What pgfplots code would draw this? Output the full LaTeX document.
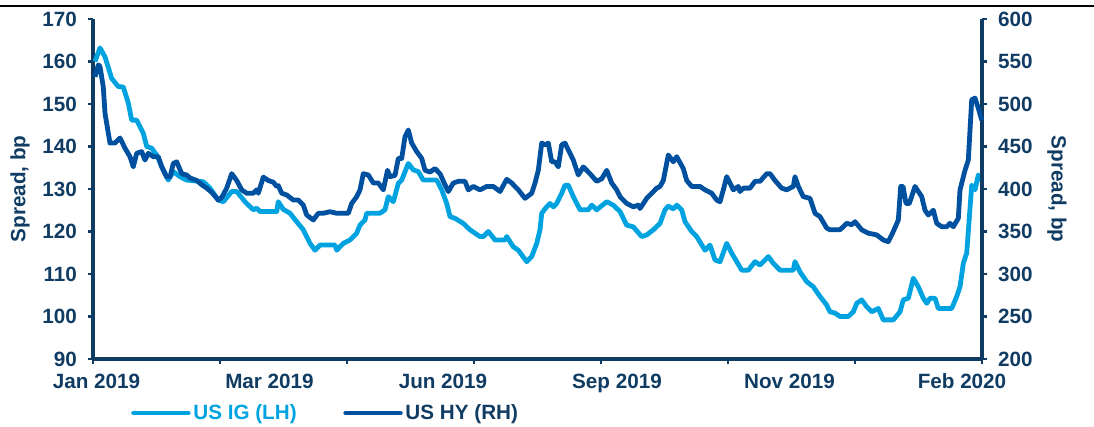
\documentclass[border=0pt]{standalone}
\usepackage{pgfplots}
\pgfplotsset{compat=1.18}
\usepackage{fontspec}
\setmainfont{Liberation Sans}
\definecolor{navy}{RGB}{16,60,100}
\definecolor{ig}{RGB}{0,163,224}
\definecolor{hy}{RGB}{0,80,160}

\pgfplotstableread{
x y
95 160
100 163.2
105 161.1
111.7 156
118.3 154.1
123.3 154
128.3 150.2
131.7 146.2
136.7 146.2
143.3 143.1
146.7 140
151.7 139.6
156.7 138
161.7 135.3
168.3 132.1
173.3 134.1
180 132.9
186.7 132.1
203.3 131.7
210 130.2
218.3 127.4
223.3 127
231.7 129.4
236.7 129.4
245 127
253.3 125.1
256.7 125.5
260 124.7
276.7 124.7
278.3 127
283.3 125.2
290 124.3
296.7 122.3
303.3 120.4
310 117.2
315 115.6
320 116.8
335 116.8
336.7 115.6
343.3 117.2
350 118
356.7 119.6
360 121.5
365 122.7
366.7 124.3
380 124.3
385 125.1
388.3 128.2
393.3 127
398.3 131.3
401.7 132.1
408.3 136
413.3 134.5
418.3 134.1
423.3 132.1
436.7 132.1
441.7 129.8
446.7 126.6
450 123.5
455 123.1
463.3 121.9
470 120.4
480 118.8
483.3 118.8
488.3 120
495 118
505 118
506.7 118.8
513.3 116.4
518.3 115.6
526.7 112.9
531.7 114.1
536.7 117.2
540 120.4
541.7 124.3
546.7 125.8
550 126.6
553.3 125.8
556.7 126.6
561.7 129
565 130.9
568.3 130.9
573.3 128.2
580 125.1
588.3 125.1
591.7 126.2
596.7 125.1
606.7 127
613.3 126.2
620 124.7
626.7 121.5
633.3 121.1
641.7 118.8
646.7 119.2
653.3 120.4
660 121.9
665 125.1
668.3 126
673.3 125.3
676.7 126.2
681.7 125.1
685 122.3
691.7 120
696.7 118.8
705 115.6
710 116.8
715 113.3
720 112.9
726.7 117.2
731.7 114.9
736.7 112.9
741.7 110.9
748.3 110.9
755 112.9
760 112.1
768.3 114.1
773.3 112.5
780 110.9
793.3 110.9
795 112.9
800 110.5
806.7 108.2
813.3 107
820 104.7
826.7 102.7
830 101.1
835 100.8
840 100
848.3 100
853.3 101.1
856.7 103.1
861.7 103.9
866.7 102.3
871.7 101.1
878.3 101.9
883.3 99.2
893.3 99.2
900 101.1
903.3 103.9
908.3 104.3
913.3 109
918.3 107
923.3 104.3
926.7 103.1
930 104.3
935 104.3
938.3 101.9
951.7 101.9
956.7 104.7
960 107
963.3 112.5
966.7 114.9
971.7 130.9
975 129.8
978.3 133.3
981.7 132.1
}\igtable

\pgfplotstableread{
x y
95 532
98.3 546
100 544
103.3 520
105 489
110 454
115 454
120 460
125 448
130 438
133.3 426
136.7 442
141.7 444
145 434
148.3 442
153.3 438
158.3 438
161.7 426
166.7 414
170 414
173.3 430
176.7 432
181.7 418
186.7 416.5
190 413
196.7 410
201.7 405
206.7 401
211.7 396
218.3 387
221.7 390
226.7 401
231.7 418
236.7 410
241.7 399
246.7 395
253.3 395
256.7 399
258.3 395
263.3 414
268.3 410
273.3 408
276.7 403
278.3 404
281.7 395
286.7 393
293.3 387
298.3 387
303.3 381
306.7 369.4
313.3 363.5
318.3 371.4
323.3 371.4
330 373.3
336.7 371.4
348.3 371.4
351.7 383
356.7 391
360 399
363.3 418
368.3 416.5
373.3 407
378.3 407
383.3 399
387.5 422
390 414.5
395 416
398.3 436
401.7 436
405 461.5
408.3 469.4
411.7 454
416.7 444
421.7 436
425 422
430 420
435 424
440 418
445 405
448.3 397
453.3 407
458.3 409
465 409
468.3 399
473.3 403
480 399
486.7 403
493.3 403
500 397
506.7 411.4
511.7 407
518.3 399
525 389
531.7 395
535 407
538.3 422
541.7 454
545 452
548.3 454
551.7 432
555 432
558.3 426
561.7 452
565 454
570 442
573.3 434
578.3 416.5
583.3 426
590 418
596.7 409
601.7 412
606.7 422
611.7 407
616.7 399
620 391
626.7 383
633.3 379
638.3 381
640 377
646.7 389
656.7 401
660 403
663.3 410
668.3 440
673.3 432
676.7 438
683.3 424
686.7 410
691.7 403
700 403
705 399
711.7 395
716.7 387
720 385
723.3 399
726.7 414.5
730 407
733.3 399
738.3 403
740 397
743.3 401
750 401
755 409
760 409
766.7 418
770 418
775 410
781.7 401
786.7 399
793.3 403
795 414.5
798.3 403
803.3 391
810 389
815 371.4
820 367.4
826.7 354
830 352
840 352
846.7 359.6
851.7 358
855 361.5
861.7 352
868.3 348
876.7 346
883.3 340
888.3 338
893.3 350
898.3 363.5
900.7 403
903 403
906 383
909.3 383
915 403
921.7 391
925 375
928.3 369.4
933.3 375
936.7 359.6
941.7 355.6
946.7 355.6
950 359.6
953.3 355.6
958.3 365.5
960 399
965 422
968.3 434
971.7 505
975 507
978.3 495
981.7 481
}\hytable

\newcommand{\lblfont}{\bfseries\fontsize{15.5}{18}\selectfont}

\pgfplotsset{
  common/.style={
    scale only axis,
    at={(69.75pt,51pt)}, anchor=south west,
    width=666.75pt, height=255pt,
    xmin=93, xmax=982,
    clip=false,
    axis line style={navy, line width=2.6pt},
    tick style={navy, line width=2pt},
    major tick length=4pt,
    tick align=outside,
    /pgf/number format/assume math mode=true,
    tick label style={font=\lblfont, text=navy},
  },
}

\begin{document}
\begin{tikzpicture}
\useasboundingbox (0,0) rectangle (820.5pt,320.25pt);
\draw[black, line width=1.5pt] (0,315.975pt) -- (820.5pt,315.975pt);

\begin{axis}[common,
  ymin=90, ymax=170,
  axis x line*=bottom, axis y line*=left,
  ytick={90,100,...,170},
  yticklabel style={xshift=-4.5pt},
  xtick={93,220,347,474,601,728,855,982},
  xticklabels={},
  extra x ticks={96.5,269.5,443,617,789.5,962},
  extra x tick labels={Jan 2019,Mar 2019,Jun 2019,Sep 2019,Nov 2019,Feb 2020},
  extra x tick style={major tick length=0pt, tick style={draw=none}, xticklabel style={yshift=-7.5pt}},
  every axis y label/.style={at={(axis description cs:-0.0821,0.5)}, rotate=90, anchor=center, font=\lblfont, text=navy},
  ylabel={Spread, bp},
]
\addplot[ig, line width=3.6pt, line join=round] table[x=x,y=y] {\igtable};
\end{axis}

\begin{axis}[common,
  ymin=200, ymax=600,
  axis x line=none, axis y line*=right,
  ytick={200,250,...,600},
  yticklabel style={xshift=4.5pt},
  every axis y label/.style={at={(axis description cs:1.0844,0.5)}, rotate=-90, anchor=center, font=\lblfont, text=navy},
  ylabel={Spread, bp},
  legend columns=2,
  legend style={at={(axis description cs:0.043,-0.1588)}, anchor=west, draw=none, fill=none,
    inner sep=0pt, outer sep=0pt,
    font=\lblfont,
    nodes={inner sep=2pt},
    /tikz/every even column/.append style={column sep=33pt}},
  legend image code/.code={\draw[#1, line cap=round] (0pt,0pt) -- (41pt,0pt);},
]
\addlegendimage{ig, line width=3.6pt}
\addlegendentry{\textcolor{ig}{US IG (LH)}}
\addplot[hy, line width=3.6pt, line join=round] table[x=x,y=y] {\hytable};
\addlegendentry{\textcolor{navy}{US HY (RH)}}
\end{axis}
\end{tikzpicture}
\end{document}
